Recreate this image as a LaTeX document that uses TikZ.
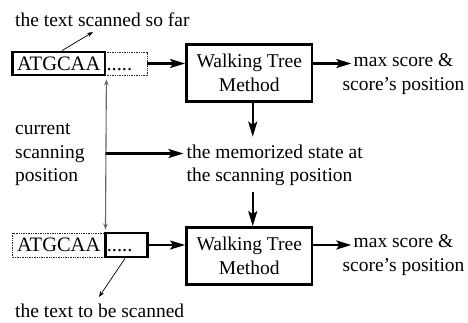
\documentclass[tikz,border=0pt]{standalone}
\usepackage{fontspec}
\setmainfont{Liberation Serif}
\usetikzlibrary{arrows.meta}
\newcommand\txtsize{\fontsize{19.5}{23.5}\selectfont}
\newcommand\seqsize{\fontsize{20.5}{23.5}\selectfont}
\tikzset{
  thickbox/.style={draw, line width=2.8pt, inner sep=0pt},
  dotbox/.style={draw=black!85, line width=0.9pt, dash pattern=on 1.4pt off 1pt, inner sep=0pt},
  seqtext/.style={font=\seqsize, text height=13pt, text depth=0pt},
  wtmbox/.style={thickbox, minimum width=125.5pt, minimum height=57pt, align=center, font=\txtsize},
  plain/.style={inner sep=0pt, font=\txtsize},
  bigarrow/.style={line width=2.2pt, -{Stealth[length=15pt,width=9pt,inset=3pt]}},
  thinarrow/.style={line width=0.7pt, -{Stealth[length=6pt,width=4.5pt]}},
  scanline/.style={line width=1.1pt, draw=black!60, {Stealth[length=6pt,width=4.5pt]}-{Stealth[length=6pt,width=4.5pt]}}
}
\begin{document}
\begin{tikzpicture}[x=1pt, y=-1pt]
\useasboundingbox (0,0) rectangle (468,322);

% upper row: scanned text, unread rest, tree method, result
\node[thickbox, seqtext, minimum width=92.5pt, minimum height=23pt] (seq1) at (58.75,63.5) {ATGCAA};
\node[dotbox, seqtext, text width=39pt, inner xsep=1.5pt, align=left, minimum height=23pt] (rest1) at (126,63.5) {.....};
\node[wtmbox] (wtm1) at (249.25,73) {Walking Tree\\Method};
\node[plain, align=center] (out1) at (403.5,74.25) {max score \&\\score’s position};

% lower row: the same scan one step later
\node[dotbox, seqtext, minimum width=92.5pt, minimum height=24pt] (seq2) at (58.75,245) {ATGCAA};
\node[thickbox, seqtext, text width=39pt, inner xsep=1.5pt, align=left, minimum height=24pt] (rest2) at (126.25,245) {.....};
\node[wtmbox] (wtm2) at (249.25,256) {Walking Tree\\Method};
\node[plain, align=center] (out2) at (403.5,255.25) {max score \&\\score’s position};

% annotations
\node[plain, anchor=base west] (scanned) at (15,26) {the text scanned so far};
\node[plain, anchor=base west] (tobe) at (15,317) {the text to be scanned};
\node[plain, align=left, anchor=west] (cur) at (15,155) {current\\scanning\\position};
\node[plain, align=left, anchor=west] (mem) at (186.5,165.2) {the memorized state at\\the scanning position};

\coordinate (tipA) at (93,32);
\coordinate (tipB) at (99,297);
\coordinate (scanpt) at (105,153.5);

% flow arrows
\draw[bigarrow] (rest1.east) -- (rest1.east -| wtm1.west);
\draw[bigarrow, shorten >=-9pt] (wtm1.east |- rest1.east) -- (out1.west |- rest1.east);
\draw[bigarrow, shorten >=7.7pt] ([xshift=3.5pt]wtm1.south) -- ([xshift=3.5pt]wtm1.south |- mem.north);
\draw[bigarrow, shorten <=6.3pt] ([xshift=3.5pt]wtm2.north |- mem.south) -- ([xshift=3.5pt]wtm2.north);
\draw[bigarrow] (rest2.east) -- (rest2.east -| wtm2.west);
\draw[bigarrow, shorten >=-9pt] (wtm2.east |- rest2.east) -- (out2.west |- rest2.east);
\draw[bigarrow, shorten >=3pt] (scanpt) -- (scanpt -| mem.west);

% scanning position marker and pointers
\draw[scanline, shorten <=3pt, shorten >=3pt] (seq1.south east) -- (seq2.north east);
\draw[thinarrow] ([xshift=3.25pt]seq1.north) -- (tipA);
\draw[thinarrow] ([xshift=-1.25pt]rest2.south) -- (tipB);
\end{tikzpicture}
\end{document}
